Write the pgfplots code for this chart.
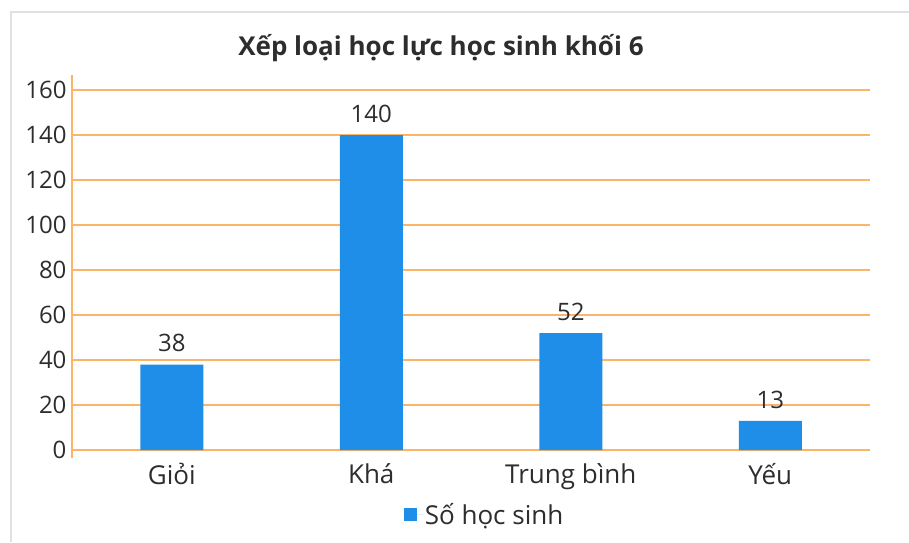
\documentclass[border=0pt]{standalone}
\usepackage{pgfplots}
\pgfplotsset{compat=1.18}
\usepackage{fontspec}
\setmainfont{Open Sans}
\definecolor{barblue}{RGB}{30,142,232}
\definecolor{gridorange}{RGB}{252,180,105}
\definecolor{txt}{RGB}{45,45,45}
\definecolor{frame}{RGB}{222,226,230}
\begin{document}
\begin{tikzpicture}
\path[use as bounding box] (-72pt,-84pt) rectangle (837pt,458pt);
\draw[frame, line width=1.5pt] (-61pt,-84pt) -- (-61pt,446pt) -- (837pt,446pt);
\begin{axis}[
  at={(0pt,0pt)}, anchor=south west,
  scale only axis, width=798pt, height=383pt,
  xmin=-0.5, xmax=3.5, ymin=-3.5, ymax=166.7,
  ybar, bar width=63pt,
  axis x line*=bottom, axis y line*=left,
  x axis line style={draw=none},
  y axis line style={gridorange, line width=1.6pt},
  ytick={0,20,...,160},
  ymajorgrids, grid style={gridorange, line width=1.6pt},
  major tick length=0pt,
  xtick={0,1,2,3},
  xticklabels={Giỏi,Khá,Trung bình,Yếu},
  yticklabel style={font=\fontsize{24}{28}\selectfont, color=txt, xshift=-2pt},
  xticklabel style={font=\fontsize{26}{30}\selectfont, color=txt, yshift=-2pt},
  /pgf/number format/assume math mode=true,
  nodes near coords,
  every node near coord/.append style={font=\fontsize{24}{28}\selectfont, color=txt, yshift=9pt},
  legend style={at={(axis description cs:0.517,-0.148)}, anchor=center, draw=none,
    font=\fontsize{26}{30}\selectfont, text=txt, inner sep=0pt},
  legend image code/.code={\path (0pt,0pt) -- (19pt,0pt);\fill[barblue] (0pt,-6.5pt) rectangle (13pt,6.5pt);},
]
\addplot[fill=barblue, draw=none] coordinates {(0,38) (1,140) (2,52) (3,13)};
\addlegendentry{Số học sinh}
\end{axis}
\node[font=\fontsize{26}{31}\selectfont\bfseries, text=txt] at (369pt,410pt) {Xếp loại học lực học sinh khối 6};
\end{tikzpicture}
\end{document}
